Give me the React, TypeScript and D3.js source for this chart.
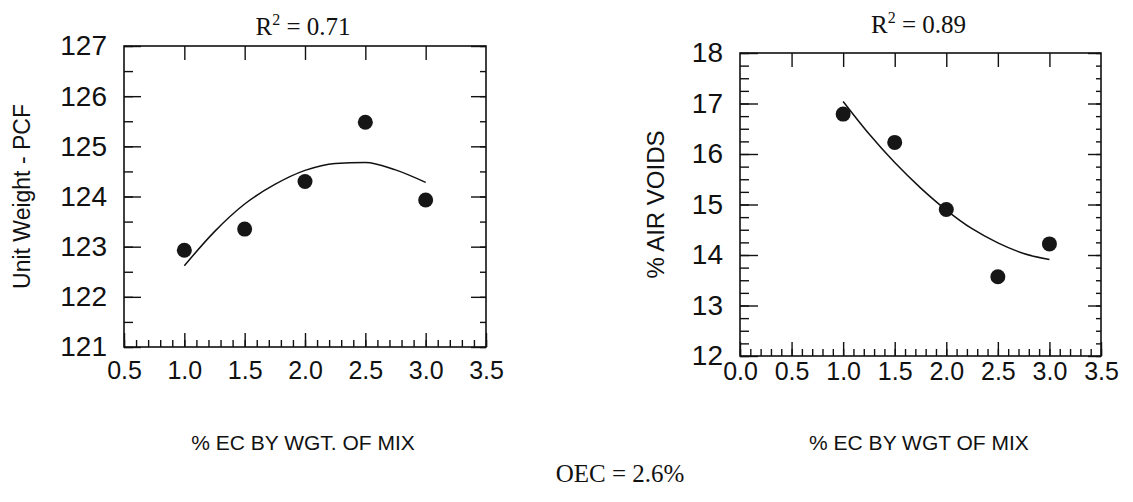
import React, { useEffect, useRef } from 'react';
import * as d3 from 'd3';

// % EC by weight of mix (same for both panels)
const ecContent = [1.0, 1.5, 2.0, 2.5, 3.0];
const unitWeight = [122.93, 123.35, 124.3, 125.48, 123.93];
const airVoids = [16.79, 16.23, 14.9, 13.57, 14.22];

// fitted curves
const unitWeightFitX = [1.0, 1.25, 1.5, 1.75, 2.0, 2.25, 2.5, 2.75, 3.0];
const unitWeightFitY = [122.62, 123.3, 123.85, 124.24, 124.52, 124.66, 124.68, 124.53, 124.28];
const airVoidsFitX = [1.0, 1.25, 1.5, 1.75, 2.0, 2.25, 2.5, 2.75, 3.0];
const airVoidsFitY = [17.04, 16.4, 15.83, 15.33, 14.89, 14.52, 14.24, 14.03, 13.91];

const leftXTicks = [0.5, 1.0, 1.5, 2.0, 2.5, 3.0, 3.5];
const rightXTicks = [0.0, 0.5, 1.0, 1.5, 2.0, 2.5, 3.0, 3.5];
const leftYTicks = [121, 122, 123, 124, 125, 126, 127];
const rightYTicks = [12, 13, 14, 15, 16, 17, 18];

const r2Labels = ['0.71', '0.89'];
const yTitles = ['Unit Weight - PCF', '% AIR VOIDS'];
const xTitles = ['% EC BY WGT. OF MIX', '% EC BY WGT OF MIX'];

const SANS = '"Liberation Sans", Arial, Helvetica, sans-serif';
const SERIF = '"Liberation Serif", "Times New Roman", serif';

type Panel = {
  x: d3.ScaleLinear<number, number>;
  y: d3.ScaleLinear<number, number>;
  xTicks: number[];
  yTicks: number[];
  yMinorStep: number;
  values: number[];
  fitX: number[];
  fitY: number[];
  r2: string;
  r2Y: number;
  yTitle: string;
  xTitle: string;
  xTitleX: number;
  yTitleX: number;
  yTitleSize: number;
  xPad: number;
  leftTick: [number, number];
  rightTick: [number, number];
  topInner: number[];
};

function drawPanel(svg: d3.Selection<SVGSVGElement, unknown, null, undefined>, p: Panel) {
  const [x0, x1] = p.x.range();
  const [y0, y1] = p.y.range(); // y0 bottom, y1 top
  const g = svg.append('g');
  const [dMin, dMax] = p.x.domain();
  const [yMin, yMax] = p.y.domain();

  const minorX = d3.range(Math.round(dMin * 10), Math.round(dMax * 10) + 1).map((d) => d / 10);
  const minorY = d3.range(yMin, yMax + 1e-6, p.yMinorStep);

  const style = (sel: any) => {
    sel.select('.domain').remove();
    sel.selectAll('line').attr('stroke', '#111').attr('stroke-width', 1.4);
  };

  // bottom minor + major ticks with labels
  g.append('g')
    .attr('transform', `translate(0,${y0})`)
    .call(d3.axisBottom(p.x).tickValues(minorX).tickSize(-7).tickFormat(() => ''))
    .call(style);
  g.append('g')
    .attr('transform', `translate(0,${y0})`)
    .call(d3.axisBottom(p.x).tickValues(p.xTicks).tickSize(-14).tickPadding(p.xPad).tickFormat(d3.format('.1f')))
    .call(style)
    .selectAll('text')
    .attr('font-family', SANS)
    .attr('font-size', 25)
    .attr('fill', '#111');

  // top ticks
  g.append('g')
    .attr('transform', `translate(0,${y1})`)
    .call(d3.axisTop(p.x).tickValues(p.topInner).tickSize(-14).tickFormat(() => ''))
    .call(style);

  // left ticks
  g.append('g')
    .attr('transform', `translate(${x0},0)`)
    .call(d3.axisLeft(p.y).tickValues(minorY).tickSize(-p.leftTick[1]).tickFormat(() => ''))
    .call(style);
  g.append('g')
    .attr('transform', `translate(${x0},0)`)
    .call(d3.axisLeft(p.y).tickValues(p.yTicks).tickSize(-p.leftTick[0]).tickPadding(17).tickFormat(d3.format('d')))
    .call(style)
    .selectAll('text')
    .attr('font-family', SANS)
    .attr('font-size', 28)
    .attr('fill', '#111');

  // right ticks
  g.append('g')
    .attr('transform', `translate(${x1},0)`)
    .call(d3.axisRight(p.y).tickValues(minorY).tickSize(-p.rightTick[1]).tickFormat(() => ''))
    .call(style);
  g.append('g')
    .attr('transform', `translate(${x1},0)`)
    .call(d3.axisRight(p.y).tickValues(p.yTicks).tickSize(-p.rightTick[0]).tickFormat(() => ''))
    .call(style);

  // frame
  g.append('rect')
    .attr('x', x0)
    .attr('y', y1)
    .attr('width', x1 - x0)
    .attr('height', y0 - y1)
    .attr('fill', 'none')
    .attr('stroke', '#111')
    .attr('stroke-width', 1.6);

  // fit curve
  const line = d3
    .line<number>()
    .x((d, i) => p.x(p.fitX[i]))
    .y((d) => p.y(d))
    .curve(d3.curveMonotoneX);
  g.append('path')
    .attr('d', line(p.fitY))
    .attr('fill', 'none')
    .attr('stroke', '#111')
    .attr('stroke-width', 1.5);

  // points
  g.selectAll('circle.pt')
    .data(p.values)
    .enter()
    .append('circle')
    .attr('class', 'pt')
    .attr('cx', (d, i) => p.x(ecContent[i]))
    .attr('cy', (d) => p.y(d))
    .attr('r', 7.5)
    .attr('fill', '#161616');

  // R^2 title
  const t = g
    .append('text')
    .attr('x', (x0 + x1) / 2 - 2)
    .attr('y', p.r2Y)
    .attr('text-anchor', 'middle')
    .attr('font-family', SERIF)
    .attr('font-size', 25)
    .attr('fill', '#111');
  t.append('tspan').text('R');
  t.append('tspan').attr('dy', -10).attr('font-size', 16).text('2');
  t.append('tspan').attr('dy', 10).text(` = ${p.r2}`);

  // axis titles
  g.append('text')
    .attr('transform', `translate(${p.yTitleX},${(y0 + y1) / 2}) rotate(-90)`)
    .attr('text-anchor', 'middle')
    .attr('font-family', SANS)
    .attr('font-size', p.yTitleSize)
    .attr('fill', '#111')
    .text(p.yTitle);
  g.append('text')
    .attr('x', p.xTitleX)
    .attr('y', 450)
    .attr('text-anchor', 'middle')
    .attr('font-family', SANS)
    .attr('font-size', 21)
    .attr('fill', '#111')
    .text(p.xTitle);
}

export default function App() {
  const ref = useRef<SVGSVGElement>(null);

  useEffect(() => {
    const svg = d3.select(ref.current!);
    svg.selectAll('*').remove();

    drawPanel(svg, {
      x: d3.scaleLinear().domain([0.5, 3.5]).range([124, 486]),
      y: d3.scaleLinear().domain([121, 127]).range([347, 46]),
      xTicks: leftXTicks,
      yTicks: leftYTicks,
      yMinorStep: 0.5,
      values: unitWeight,
      fitX: unitWeightFitX,
      fitY: unitWeightFitY,
      r2: r2Labels[0],
      r2Y: 35,
      yTitle: yTitles[0],
      xTitle: xTitles[0],
      xTitleX: 303,
      yTitleX: 30,
      yTitleSize: 23,
      xPad: 14,
      leftTick: [17, 9],
      rightTick: [15, 6],
      topInner: [1.0, 1.5, 2.0, 2.5, 3.0],
    });

    drawPanel(svg, {
      x: d3.scaleLinear().domain([0, 3.5]).range([740, 1101]),
      y: d3.scaleLinear().domain([12, 18]).range([356, 53]),
      xTicks: rightXTicks,
      yTicks: rightYTicks,
      yMinorStep: 0.25,
      values: airVoids,
      fitX: airVoidsFitX,
      fitY: airVoidsFitY,
      r2: r2Labels[1],
      r2Y: 33,
      yTitle: yTitles[1],
      xTitle: xTitles[1],
      xTitleX: 919,
      yTitleX: 664,
      yTitleSize: 24,
      xPad: 6,
      leftTick: [18, 9],
      rightTick: [13, 5],
      topInner: [0.5, 1.0, 1.5, 2.0, 2.5, 3.0],
    });

    svg
      .append('text')
      .attr('x', 620)
      .attr('y', 482)
      .attr('text-anchor', 'middle')
      .attr('font-family', SERIF)
      .attr('font-size', 25)
      .attr('fill', '#111')
      .text('OEC = 2.6%');
  }, []);

  return (
    <svg
      ref={ref}
      width={1133}
      height={502}
      style={{ position: 'absolute', left: 0, top: 0, background: '#fff' }}
    />
  );
}
